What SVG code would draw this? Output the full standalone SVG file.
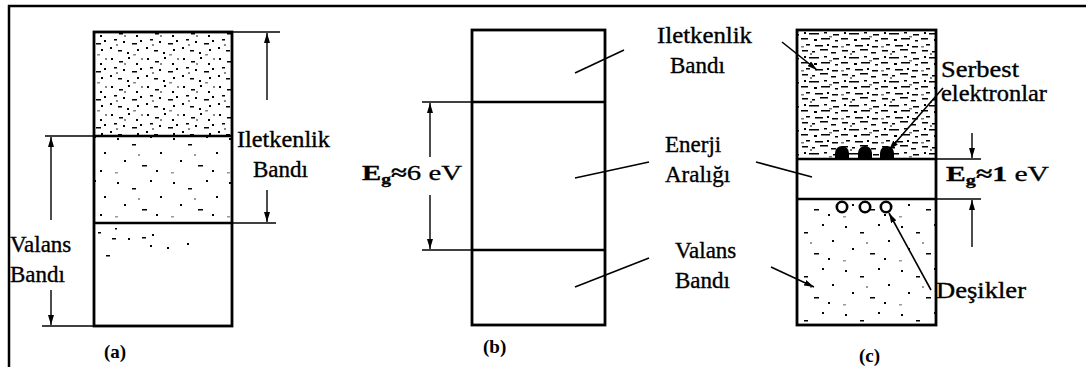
<svg xmlns="http://www.w3.org/2000/svg" width="1086" height="367" viewBox="0 0 1086 367">
<style>
.band{fill:none;stroke:#000;stroke-width:2.8}
.div{stroke:#000;stroke-width:2.6}
.ext{stroke:#000;stroke-width:1.4}
.dim{stroke:#000;stroke-width:1.4;fill:none}
.lead{stroke:#000;stroke-width:1.6;fill:none}
.lbl{font-family:"Liberation Serif","Times New Roman",serif;font-size:23px;fill:#000;stroke:#000;stroke-width:0.35}
.egl{font-family:"Liberation Serif","Times New Roman",serif;font-size:22px;fill:#000;stroke:#000;stroke-width:0.3}
.cap{font-family:"Liberation Serif","Times New Roman",serif;font-size:19px;font-weight:bold;fill:#000}
</style>
<defs>
<marker id="ah" markerWidth="10" markerHeight="6" refX="10" refY="3" orient="auto" markerUnits="userSpaceOnUse">
<path d="M0,0 L10,3 L0,6 z" fill="#000"/>
</marker>
<pattern id="dense" width="36" height="28" patternUnits="userSpaceOnUse">
<g fill="#000">
<rect x="3" y="2" width="2" height="2"/><rect x="11" y="5" width="4" height="1.5"/><rect x="20" y="1" width="2" height="2"/>
<rect x="28" y="7" width="2" height="2"/><rect x="6" y="11" width="3" height="1.5"/><rect x="15" y="13" width="2" height="2"/>
<rect x="24" y="15" width="5" height="1.5"/><rect x="32" y="12" width="2" height="2"/><rect x="2" y="19" width="2" height="2"/>
<rect x="10" y="22" width="4" height="1.5"/><rect x="19" y="24" width="2" height="2"/><rect x="29" y="21" width="2" height="2"/>
</g>
<g fill="#888">
<rect x="16" y="7" width="2" height="2"/><rect x="33" y="2" width="2" height="2"/><rect x="8" y="16" width="2" height="2"/><rect x="25" y="26" width="3" height="1.5"/>
</g>
</pattern>
<pattern id="light" width="56" height="44" patternUnits="userSpaceOnUse">
<g fill="#000">
<rect x="5" y="6" width="2" height="2"/><rect x="20" y="12" width="4" height="1.5"/><rect x="38" y="4" width="2" height="2"/>
<rect x="48" y="20" width="2" height="2"/><rect x="12" y="28" width="2" height="2"/><rect x="30" y="33" width="5" height="1.5"/>
<rect x="44" y="38" width="2" height="2"/>
</g>
<g fill="#999"><rect x="26" y="22" width="2" height="2"/><rect x="3" y="40" width="3" height="1.5"/></g>
</pattern>
<pattern id="heavy" width="40" height="24" patternUnits="userSpaceOnUse">
<g fill="#000">
<rect x="2" y="2" width="6" height="1.5"/><rect x="12" y="3" width="3" height="1.5"/><rect x="20" y="1" width="8" height="1.5"/>
<rect x="31" y="4" width="5" height="1.5"/><rect x="4" y="8" width="2" height="2"/><rect x="9" y="9" width="10" height="1.5"/>
<rect x="24" y="8" width="3" height="1.5"/><rect x="33" y="10" width="6" height="1.5"/><rect x="1" y="14" width="7" height="1.5"/>
<rect x="14" y="15" width="3" height="2"/><rect x="21" y="14" width="9" height="1.5"/><rect x="35" y="16" width="3" height="1.5"/>
<rect x="6" y="20" width="4" height="1.5"/><rect x="15" y="21" width="8" height="1.5"/><rect x="27" y="20" width="2" height="2"/>
<rect x="32" y="22" width="6" height="1.5"/>
</g>
<g fill="#777"><rect x="10" y="5" width="2" height="2"/><rect x="29" y="12" width="3" height="1.5"/><rect x="1" y="22" width="3" height="1.5"/></g>
</pattern>
</defs>

<g id="frame">
<line x1="8" y1="6" x2="1086" y2="6" stroke="#000" stroke-width="2.5"/>
<line x1="9" y1="5" x2="9" y2="367" stroke="#000" stroke-width="2.5"/>
</g>

<g id="panel-a">
<rect x="94" y="32" width="138" height="104" fill="url(#dense)"/>
<rect x="94" y="136" width="138" height="86" fill="url(#light)"/>
<g fill="#000">
<rect x="98" y="232" width="3" height="1.5"/><rect x="112" y="238" width="4" height="1.5"/><rect x="128" y="238" width="2" height="2"/>
<rect x="142" y="237" width="4" height="1.5"/><rect x="152" y="234" width="2" height="2"/><rect x="150" y="245" width="2" height="2"/>
<rect x="167" y="247" width="2" height="2"/><rect x="187" y="243" width="2" height="2"/><rect x="106" y="255" width="4" height="1.5"/>
<rect x="115" y="228" width="2" height="1.5"/>
</g>
<rect class="band" x="94" y="32" width="138" height="294"/>
<line class="div" x1="94" y1="136" x2="232" y2="136" stroke-width="3.2"/>
<line class="div" x1="94" y1="223" x2="232" y2="223" stroke-width="3"/>
<text class="cap" x="104" y="358">(a)</text>
</g>

<g id="panel-b">
<rect class="band" x="472" y="30" width="133" height="295"/>
<line class="div" x1="472" y1="102" x2="605" y2="102"/>
<line class="div" x1="472" y1="250" x2="605" y2="250"/>
<text class="cap" x="483" y="353">(b)</text>
</g>

<g id="panel-c">
<rect x="797" y="30" width="139" height="129" fill="url(#heavy)"/>
<rect x="797" y="199" width="139" height="126" fill="url(#light)"/>
<rect class="band" x="797" y="30" width="139" height="295"/>
<line class="div" x1="797" y1="159" x2="936" y2="159"/>
<line class="div" x1="797" y1="199" x2="936" y2="199"/>
<g id="electrons" fill="#000">
<path d="M835,159 L835,153 A7,7 0 0 1 849,153 L849,159 z"/>
<path d="M858,159 L858,153 A7,7 0 0 1 872,153 L872,159 z"/>
<path d="M880,159 L880,153 A7,7 0 0 1 894,153 L894,159 z"/>
</g>
<g id="holes" fill="#fff" stroke="#000" stroke-width="2.6">
<circle cx="842" cy="207" r="5.2"/>
<circle cx="865" cy="207" r="5.2"/>
<circle cx="886" cy="207" r="5.2"/>
</g>
<text class="cap" x="859" y="362">(c)</text>
</g>

<g id="connectors">
<line class="ext" x1="232" y1="32" x2="280" y2="32"/>
<line class="ext" x1="232" y1="223" x2="276" y2="223"/>
<line class="dim" x1="267" y1="100" x2="267" y2="33" marker-end="url(#ah)"/>
<line class="dim" x1="267" y1="190" x2="267" y2="222" marker-end="url(#ah)"/>
<line class="ext" x1="45" y1="136" x2="94" y2="136"/>
<line class="ext" x1="42" y1="326" x2="94" y2="326"/>
<line class="dim" x1="51" y1="220" x2="51" y2="137" marker-end="url(#ah)"/>
<line class="dim" x1="51" y1="290" x2="51" y2="325" marker-end="url(#ah)"/>
<line class="ext" x1="422" y1="102" x2="472" y2="102"/>
<line class="ext" x1="422" y1="250" x2="472" y2="250"/>
<line class="dim" x1="430" y1="157" x2="430" y2="103" marker-end="url(#ah)"/>
<line class="dim" x1="430" y1="195" x2="430" y2="249" marker-end="url(#ah)"/>
<line class="lead" x1="575" y1="73" x2="624" y2="50"/>
<line class="lead" x1="575" y1="178" x2="649" y2="162"/>
<line class="lead" x1="575" y1="287" x2="649" y2="258"/>
<line class="ext" x1="936" y1="159" x2="981" y2="159"/>
<line class="ext" x1="936" y1="199" x2="981" y2="199"/>
<line class="dim" x1="972" y1="133" x2="972" y2="158" marker-end="url(#ah)"/>
<line class="dim" x1="972" y1="247" x2="972" y2="200" marker-end="url(#ah)"/>
<line class="lead" x1="782" y1="42" x2="817" y2="70" marker-end="url(#ah)"/>
<line class="lead" x1="756" y1="162" x2="812" y2="177"/>
<line class="lead" x1="771" y1="267" x2="814" y2="287" marker-end="url(#ah)"/>
<line class="lead" x1="943" y1="88" x2="889" y2="150" marker-end="url(#ah)" stroke-width="2"/>
<line class="lead" x1="931" y1="290" x2="889" y2="213" marker-end="url(#ah)" stroke-width="2"/>
</g>

<g id="labels">
<text class="lbl" x="237" y="147" textLength="93" lengthAdjust="spacingAndGlyphs">Iletkenlik</text>
<text class="lbl" x="253" y="177">Bandı</text>
<text class="lbl" x="10" y="252">Valans</text>
<text class="lbl" x="10" y="282">Bandı</text>

<text class="egl" x="362" y="180" textLength="100" lengthAdjust="spacingAndGlyphs"><tspan font-weight="bold">E</tspan><tspan font-size="15" dy="4" font-weight="bold" text-decoration="underline">g</tspan><tspan dy="-4" font-weight="bold">≈</tspan>6 eV</text>

<text class="lbl" x="657" y="43" textLength="95" lengthAdjust="spacingAndGlyphs">Iletkenlik</text>
<text class="lbl" x="670" y="73">Bandı</text>
<text class="lbl" x="665" y="152">Enerji</text>
<text class="lbl" x="665" y="182">Aralığı</text>
<text class="lbl" x="675" y="258">Valans</text>
<text class="lbl" x="675" y="288">Bandı</text>

<text class="lbl" x="941" y="77" textLength="78" lengthAdjust="spacingAndGlyphs">Serbest</text>
<text class="lbl" x="941" y="101" textLength="106" lengthAdjust="spacingAndGlyphs">elektronlar</text>
<text class="egl" x="946" y="181" textLength="103" lengthAdjust="spacingAndGlyphs"><tspan font-weight="bold">E</tspan><tspan font-size="15" dy="4" font-weight="bold" text-decoration="underline">g</tspan><tspan dy="-4" font-weight="bold">≈1</tspan> eV</text>
<text class="lbl" x="936" y="298" textLength="90" lengthAdjust="spacingAndGlyphs">Deşikler</text>
</g>
</svg>
